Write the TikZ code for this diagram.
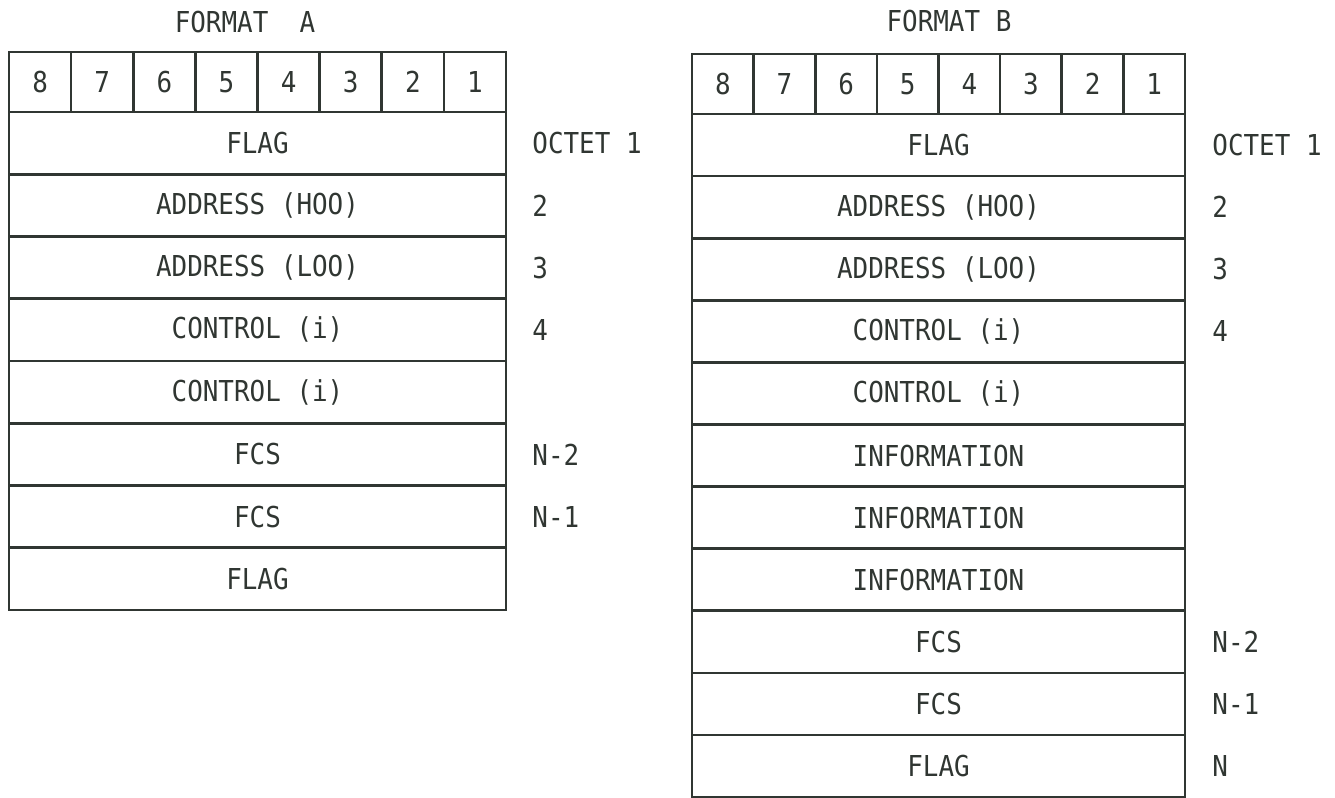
\documentclass[tikz,border=0pt]{standalone}
\usepackage{fontspec}
\setmonofont[FakeStretch=0.9]{DejaVu Sans Mono}
\usepackage{tikz}
\usetikzlibrary{positioning}
\definecolor{inkgray}{RGB}{48,54,50}
\tikzset{
    framefont/.style={font=\ttfamily\fontsize{14.4pt}{17pt}\selectfont, text=inkgray},
    field/.style={framefont, draw=inkgray, line width=1.3pt, inner sep=0pt, outer sep=0pt, minimum width=#1, minimum height=31.1pt},
    bitcell/.style={framefont, draw=inkgray, line width=1.3pt, inner sep=0pt, outer sep=0pt, minimum width=#1, minimum height=30pt},
    octetlabel/.style={framefont, anchor=west, inner sep=0pt},
    formatlabel/.style={framefont}
}

\begin{document}
\begin{tikzpicture}[x=0.5pt, y=-0.5pt]
        \useasboundingbox (0,0) rectangle (1335,798);

        % ---------------- FORMAT A ----------------
        \node[formatlabel] (aTitle) at (245,22) {FORMAT\ \ A};

        % Bit numbers
        \foreach \k in {1,...,8} {
            \pgfmathtruncatemacro{\bit}{9-\k}
            \node[bitcell=31.06pt] (aBit\bit) at ({9+62.125*(\k-0.5)},82) {\bit};
        }

        % Octets
        \foreach \txt [count=\i] in {FLAG, {ADDRESS (HOO)}, {ADDRESS (LOO)}, {CONTROL (i)}, {CONTROL (i)}, FCS, FCS, FLAG} {
            \node[field=248.5pt] (aRow\i) at (257.5,{112+62.25*(\i-0.5)}) {\txt};
        }

        % Octet numbers
        \foreach \i/\lbl in {1/OCTET 1, 2/2, 3/3, 4/4, 6/N-2, 7/N-1} {
            \node[octetlabel] (aNum\i) at (532,{112+62.25*(\i-0.5)}) {\lbl};
        }

        % ---------------- FORMAT B ----------------
        \node[formatlabel] (bTitle) at (949,21) {FORMAT B};

        % Bit numbers
        \foreach \k in {1,...,8} {
            \pgfmathtruncatemacro{\bit}{9-\k}
            \node[bitcell=30.8pt] (bBit\bit) at ({692+61.625*(\k-0.5)},84) {\bit};
        }

        % Octets
        \foreach \txt [count=\i] in {FLAG, {ADDRESS (HOO)}, {ADDRESS (LOO)}, {CONTROL (i)}, {CONTROL (i)}, INFORMATION, INFORMATION, INFORMATION, FCS, FCS, FLAG} {
            \node[field=246.5pt] (bRow\i) at (938.5,{114+62.1*(\i-0.5)}) {\txt};
        }

        % Octet numbers
        \foreach \i/\lbl in {1/OCTET 1, 2/2, 3/3, 4/4, 9/N-2, 10/N-1, 11/N} {
            \node[octetlabel] (bNum\i) at (1212,{114+62.1*(\i-0.5)}) {\lbl};
        }
    \end{tikzpicture}
\end{document}
